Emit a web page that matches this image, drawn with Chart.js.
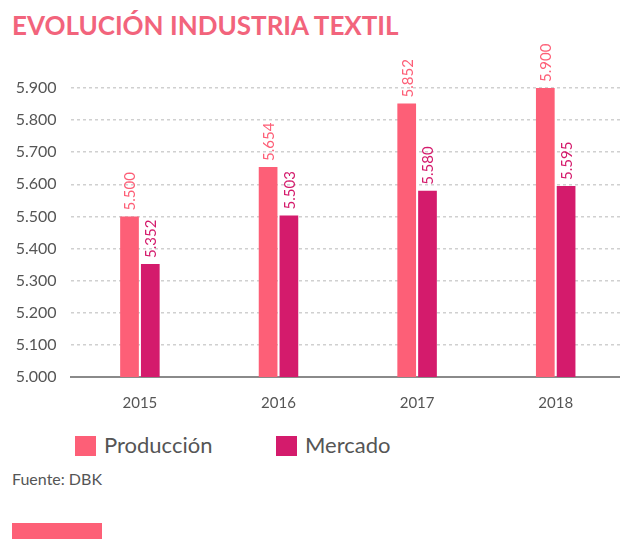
<!DOCTYPE html>
<html lang="es">
<head>
<meta charset="utf-8">
<title>Evolución industria textil</title>
<script src="https://cdn.jsdelivr.net/npm/chart.js@4"></script>
<style>
  html, body { margin: 0; padding: 0; background: #fff; overflow: hidden; }
  body { width: 620px; height: 539px; position: relative; font-family: Lato, sans-serif; }
  #title { position: absolute; left: 12px; top: 9px; font-size: 26px; font-weight: 700; color: #f2647c; white-space: nowrap; }
  #chartBox { position: absolute; left: 0; top: 40px; width: 625px; height: 380px; }
  #legend { position: absolute; top: 436px; left: 0; font-size: 22px; color: #555; }
  .item { position: absolute; top: 0; white-space: nowrap; }
  .item span.sw { position: absolute; left: 0; top: 0; width: 21px; height: 20px; }
  .item span.tx { position: absolute; left: 29px; top: -5px; }
  #source { position: absolute; left: 12px; top: 469px; font-size: 16px; color: #555; }
  #tab { position: absolute; left: 12px; top: 523px; width: 90px; height: 16px; background: #fd6077; }
</style>
</head>
<body>
<div id="title">EVOLUCIÓN INDUSTRIA TEXTIL</div>
<div id="chartBox"><canvas id="chart"></canvas></div>
<div id="legend"></div>
<div id="source">Fuente: DBK</div>
<div id="tab"></div>
<script>
// Daten
const years = ["2015", "2016", "2017", "2018"];
const produccion = [5500, 5654, 5852, 5900];
const mercado = [5352, 5503, 5580, 5595];
const seriesNames = ["Producción", "Mercado"];
const seriesColors = ["#fd5f77", "#d41b6c"];
const yMin = 5000;
const yMax = 5900;

// 5900 -> "5.900"
function fmt(v) {
  return String(v).replace(/\B(?=(\d{3})+(?!\d))/g, ".");
}

// Werte senkrecht über die Balken schreiben
const barLabels = {
  id: "barLabels",
  afterDatasetsDraw(chart) {
    const ctx = chart.ctx;
    chart.data.datasets.forEach((ds, i) => {
      const meta = chart.getDatasetMeta(i);
      meta.data.forEach((bar, j) => {
        ctx.save();
        ctx.translate(bar.x + 1, bar.y - 6);
        ctx.rotate(-Math.PI / 2);
        ctx.font = "15px Lato";
        ctx.fillStyle = ds.backgroundColor;
        ctx.textAlign = "left";
        ctx.textBaseline = "middle";
        ctx.fillText(fmt(ds.data[j]), 0, 0);
        ctx.restore();
      });
    });
  }
};

new Chart(document.getElementById("chart"), {
  type: "bar",
  data: {
    labels: years,
    datasets: [
      { label: seriesNames[0], data: produccion, backgroundColor: seriesColors[0] },
      { label: seriesNames[1], data: mercado, backgroundColor: seriesColors[1] }
    ]
  },
  options: {
    responsive: true,
    maintainAspectRatio: false,
    animation: false,
    categoryPercentage: 0.3,
    barPercentage: 0.9,
    layout: { padding: { top: 48, left: 0, right: 0, bottom: 0 } },
    plugins: {
      legend: { display: false },
      tooltip: { enabled: false }
    },
    scales: {
      x: {
        grid: { display: false, drawTicks: false },
        border: { display: true, color: "#8a8a8a", width: 2 },
        ticks: { color: "#555", font: { family: "Lato", size: 15 }, padding: 17 },
        afterFit(scale) { scale.height = 43; }
      },
      y: {
        min: yMin,
        max: yMax,
        // dash gilt in v4 auch für die Gitterlinien
        border: { display: false, dash: [3, 3] },
        grid: {
          drawTicks: false,
          color: c => (c.tick && c.tick.value === yMin ? "rgba(0,0,0,0)" : "#d0d0d0"),
          lineWidth: 1.5
        },
        ticks: {
          stepSize: 100,
          color: "#555",
          font: { family: "Lato", size: 16 },
          padding: 14,
          callback: v => fmt(v)
        },
        afterFit(scale) { scale.width = 70.6; }
      }
    }
  },
  plugins: [barLabels]
});

// Legende
const legend = document.getElementById("legend");
const legendX = [75, 276];
seriesNames.forEach((name, i) => {
  const item = document.createElement("div");
  item.className = "item";
  item.style.left = legendX[i] + "px";
  item.innerHTML = `<span class="sw" style="background:${seriesColors[i]}"></span><span class="tx">${name}</span>`;
  legend.appendChild(item);
});
</script>
</body>
</html>
